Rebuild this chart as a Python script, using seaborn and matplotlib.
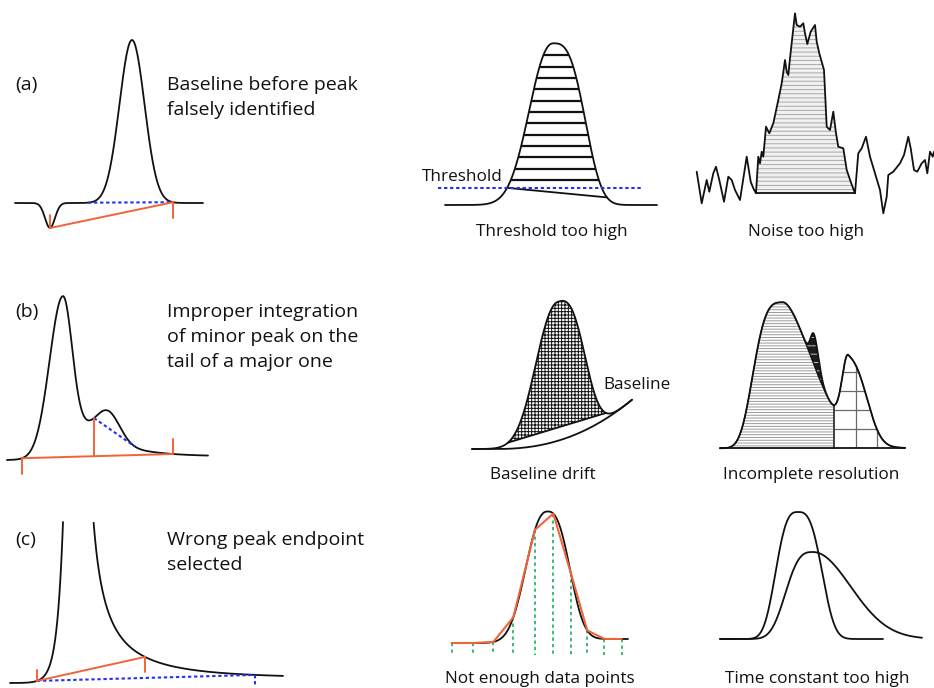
import numpy as np
import matplotlib
matplotlib.use("Agg")
import matplotlib.pyplot as plt
from matplotlib.patches import Polygon
import seaborn as sns

# ------------------------------------------------------------------
# Drawing data (pixel space of a 934 x 688 canvas, y grows downward)
# Peak shapes: centre, height above baseline, left/right width, left/right exponent
# ------------------------------------------------------------------

# (a) baseline before peak falsely identified
a_baseline = 203.0
a_span = [15, 203]
a_centres = [50, 132]
a_heights = [-25, 163]
a_widths = [7.0, 17.7]
a_integration = [50, 173]          # start / end chosen by the integrator
a_true_start = 88                  # start of the correct (dotted) baseline

# (b) minor peak on the tail of a major one
b_baseline = [460, 457]
b_span = [7, 208]
b_major = [63, 163, 19, 12.7]      # centre, height, left width, right width
b_tail = [55, 40, 15]              # amplitude, decay length, onset width
b_minor = [108, 30, 17]            # centre, height, width
b_integration = [22, 94, 173]      # start, drop line, end
b_skim_end = 135

# (c) wrong peak endpoint
c_baseline = 683
c_span = [10, 283]
c_visible = 161                    # height at which the tall peak leaves the frame
c_rise = [63, 6]                   # reference position, e-fold length of the front
c_tail = [80, 2375, 118, 5]        # pole, amplitude, decay length, residual offset
c_integration = [37, 145]
c_true_end = 255

# threshold too high
thr_baseline = 205
thr_span = [445, 657]
thr_peak = [553.3, 161.7, 32, 37, 2.2, 3.0]
thr_level = 188.3
thr_level_span = [438, 642]
thr_foot = 607

# noise too high
noise_x = [696.7, 701.7, 706.7, 709.3, 713.3, 716.0, 719.3, 724.0, 728.3, 731.7, 735.0, 740.0,
           746.7, 750.7, 753.3, 756.0,
           758.3, 760.0, 761.7, 763.3, 766.0, 769.3, 773.3, 778.3, 781.7, 785.0, 786.7, 788.3,
           790.0, 795.0, 796.7, 800.0, 803.3, 805.0, 807.3, 810.7, 815.0, 816.7, 819.3, 824.0,
           826.7, 830.0, 833.3, 836.0, 838.3, 843.3, 846.7, 850.7, 855.0,
           858.3, 861.7, 866.0, 870.0, 875.0, 880.0, 883.3, 886.7, 888.3, 893.3, 900.0, 904.0,
           908.3, 910.7, 914.0, 917.3, 921.7, 925.0, 927.3, 930.0, 932.7, 934.0]
noise_y = [171.7, 203.3, 180.0, 191.7, 173.3, 166.7, 180.0, 201.7, 176.7, 180.0, 190.0, 200.0,
           156.7, 181.7, 188.3, 193.3,
           156.7, 163.3, 151.7, 156.7, 126.7, 133.3, 123.3, 100.0, 83.3, 60.0, 71.7, 75.0,
           58.3, 13.3, 25.0, 26.7, 23.3, 33.3, 44.0, 31.7, 25.0, 41.7, 53.3, 70.0,
           126.7, 130.0, 111.7, 133.3, 146.7, 148.3, 170.0, 181.7, 193.3,
           153.3, 148.3, 136.7, 156.7, 173.3, 190.0, 213.3, 196.7, 175.0, 171.7, 163.3, 155.0,
           136.7, 148.3, 170.0, 171.7, 163.3, 160.0, 173.3, 151.7, 156.7, 151.7]
noise_floor = 193.3
noise_peak_span = [756.0, 855.0]

# baseline drift
drift_floor = 449
drift_span = [472, 632]
drift_rise = [495, 6e-4, 2.3]      # onset, scale, power of the drifting baseline
drift_peak = [558.3, 139, 30, 31.5, 2.2, 2.8]
drift_chord = [508, 606]

# incomplete resolution
res_baseline = 448.3
res_span = [720, 905]
res_centres = [783.3, 814, 848.3]
res_heights = [146, 31, 74]
res_wl = [34, 4.7, 8.5]
res_wr = [43, 6.4, 24]
res_pl = [3.5, 2.0, 2.0]
res_pr = [1.7, 2.0, 2.5]

# not enough data points
dp_span = [452, 628]
dp_baseline = [643, 639]
dp_peak = [546.7, 131, 27, 28, 2.3, 2.7]
dp_samples = [451.7, 473.3, 493.3, 513.3, 535.0, 553.3, 570.7, 587.3, 604.3, 621.7]
dp_drop_to = 655

# time constant too high
tc_baseline = 639
tc_narrow = [798, 127, 26, 28, 3.0, 3.0]
tc_narrow_span = [720, 883]
tc_broad = [813, 87, 32, 53, 3.0, 2.0]
tc_broad_span = [720, 922]

# text
side_labels = ["(a)", "(b)", "(c)"]
side_label_y = [85, 312, 540]
descriptions = ["Baseline before peak\nfalsely identified",
                "Improper integration\nof minor peak on the\ntail of a major one",
                "Wrong peak endpoint\nselected"]
captions = ["Threshold too high", "Noise too high", "Baseline drift",
            "Incomplete resolution", "Not enough data points", "Time constant too high"]
caption_x = [552, 806, 543, 811, 540, 817]
caption_y = [232, 232, 475, 475, 679, 679]

# ------------------------------------------------------------------
INK = "#111111"
ORANGE = "#F0643A"
BLUE = "#2233EE"
GREEN = "#2DB46A"
BIG = 14
SMALL = 12.3

sns.set_theme(style="white")
plt.rcParams["font.family"] = ["Open Sans", "DejaVu Sans"]
plt.rcParams["hatch.linewidth"] = 0.7

fig = plt.figure(figsize=(9.34, 6.88), dpi=100)
ax = fig.add_axes([0, 0, 1, 1])
ax.set_xlim(0, 934)
ax.set_ylim(688, 0)
ax.axis("off")


def peak(x, c, h, wl, wr, pl=2.0, pr=2.0):
    d = np.asarray(x, float) - c
    w = np.where(d < 0, wl, wr)
    p = np.where(d < 0, pl, pr)
    return h * np.exp(-(np.abs(d) / w) ** p)


def trace(x, y, color=INK, lw=1.3, ls="-", z=3):
    sns.lineplot(x=np.asarray(x, float), y=np.asarray(y, float), ax=ax, color=color,
                 linewidth=lw, linestyle=ls, sort=False, estimator=None,
                 legend=False, zorder=z)


DOTS = (0, (1.6, 1.3))

# ---------------- (a) ----------------
def ya(x):
    h = sum(peak(x, c, hh, w, w) for c, hh, w in zip(a_centres, a_heights, a_widths))
    return a_baseline - h

xa = np.linspace(*a_span, 500)
trace(xa, ya(xa))
s, e = a_integration
trace([a_true_start, e], [ya(a_true_start), ya(e)], BLUE, 1.5, DOTS)
trace([s, e], [ya(s), ya(e)], ORANGE, 1.4)
trace([s, s], [ya(s) - 13, ya(s)], ORANGE, 1.4)
trace([e, e], [ya(e), ya(e) + 16], ORANGE, 1.4)

# ---------------- (b) ----------------
def yb(x):
    x = np.asarray(x, float)
    base = np.interp(x, b_span, b_baseline)
    c, h, wl, wr = b_major
    amp, dec, onset = b_tail
    d = np.clip(x - c, 0, None)
    tail = amp * np.exp(-d / dec) * (1 - np.exp(-(d / onset) ** 2))
    mc, mh, mw = b_minor
    return base - (peak(x, c, h, wl, wr) + tail + peak(x, mc, mh, mw, mw))

xb = np.linspace(*b_span, 600)
trace(xb, yb(xb))
s, m, e = b_integration
ym_line = np.interp(m, [s, e], [yb(s), yb(e)])
trace([m, b_skim_end], [yb(m), yb(b_skim_end)], BLUE, 1.5, DOTS)
trace([s, e], [yb(s), yb(e)], ORANGE, 1.4)
trace([s, s], [yb(s), yb(s) + 16], ORANGE, 1.4)
trace([m, m], [yb(m), ym_line], ORANGE, 1.4)
trace([e, e], [yb(e) - 15, yb(e)], ORANGE, 1.4)

# ---------------- (c) ----------------
def yc_front(x):
    ref, efold = c_rise
    h = c_visible * (np.exp((x - ref) / efold) - np.exp((c_span[0] - ref) / efold))
    return c_baseline - h

def yc_tail(x):
    pole, amp, dec, off = c_tail
    return c_baseline - (off + amp / (x - pole) * np.exp(-(x - pole) / dec))

xf = np.linspace(c_span[0], c_rise[0], 300)
trace(xf, yc_front(xf))
xt = np.linspace(c_tail[0] + 1, c_span[1], 2000)
ht = c_baseline - yc_tail(xt)
keep = ht <= c_visible
trace(xt[keep], yc_tail(xt[keep]))

s, e = c_integration
ys = yc_front(s)
trace([s, c_true_end], [ys, yc_tail(c_true_end)], BLUE, 1.5, DOTS)
trace([c_true_end, c_true_end], [yc_tail(c_true_end), yc_tail(c_true_end) + 10], BLUE, 1.5, DOTS)
trace([s, e], [ys, yc_tail(e)], ORANGE, 1.4)
trace([s, s], [ys - 11, ys], ORANGE, 1.4)
trace([e, e], [yc_tail(e), yc_tail(e) + 15], ORANGE, 1.4)

# ---------------- threshold too high ----------------
def yt(x):
    return thr_baseline - peak(x, *thr_peak)

xt2 = np.linspace(*thr_span, 800)
yt2 = yt(xt2)
above = yt2 <= thr_level
xs_in = xt2[above]
poly = np.column_stack([np.r_[xs_in, xs_in[::-1]],
                        np.r_[yt2[above], np.full(above.sum(), thr_level)]])
clip = Polygon(poly, closed=True, fill=False, lw=0)
ax.add_patch(clip)
rows = thr_level - 8.3 - 11.35 * np.arange(12)
hl = ax.hlines(rows, xs_in[0], xs_in[-1], color=INK, lw=1.6, zorder=2)
hl.set_clip_path(clip)
trace(xt2, yt2)
x_cross = xs_in[0]
trace([x_cross, thr_foot], [yt(x_cross), yt(thr_foot)], INK, 1.3)
trace(thr_level_span, [thr_level, thr_level], BLUE, 1.5, DOTS)
ax.text(422, 177, "Threshold", fontsize=SMALL, ha="left", va="center", color=INK)

# ---------------- noise too high ----------------
nx = np.asarray(noise_x)
ny = np.asarray(noise_y)
inpk = (nx >= noise_peak_span[0]) & (nx <= noise_peak_span[1])
ax.fill(nx[inpk], ny[inpk], facecolor="#f1f1f1", edgecolor="#a9a9a9", hatch="----",
        lw=0, zorder=1)
trace(nx, ny, INK, 1.3)
trace(noise_peak_span, [noise_floor, noise_floor], INK, 1.3)

# ---------------- baseline drift ----------------
def yd_base(x):
    on, k, pw = drift_rise
    return drift_floor - k * np.clip(np.asarray(x, float) - on, 0, None) ** pw

def yd(x):
    return yd_base(x) - peak(x, *drift_peak)

xd = np.linspace(*drift_span, 700)
l, r = drift_chord
xin = xd[(xd >= l) & (xd <= r)]
chord_y = np.interp(xin, [l, r], [yd(l), yd(r)])
ax.fill_between(xin, yd(xin), chord_y, facecolor="white", edgecolor=INK,
                hatch="+++++", lw=0, zorder=1)
trace(xd, yd_base(xd))
trace(xd, yd(xd))
trace([l, r], [yd(l), yd(r)], INK, 1.3)
ax.text(603, 385, "Baseline", fontsize=SMALL, ha="left", va="center", color=INK)

# ---------------- incomplete resolution ----------------
xr = np.linspace(*res_span, 900)
comps = [peak(xr, c, h, wl, wr, pl, pr) for c, h, wl, wr, pl, pr in
         zip(res_centres, res_heights, res_wl, res_wr, res_pl, res_pr)]
total = comps[0] + comps[1] + comps[2]
under = comps[0] + comps[2]
yr_total = res_baseline - total
yr_under = res_baseline - under
win = (xr > res_centres[1]) & (xr < res_centres[2])
x_valley = xr[win][np.argmin(total[win])]
left = xr <= x_valley
ax.fill_between(xr[left], res_baseline, yr_under[left], facecolor="white",
                edgecolor="#9a9a9a", hatch="------", lw=0, zorder=1)
ax.fill_between(xr[left], yr_under[left], yr_total[left], facecolor="#1c1c1c",
                edgecolor="#bdbdbd", hatch="--", lw=0, zorder=1)
right = xr >= x_valley
rpoly = np.column_stack([np.r_[xr[right], xr[right][::-1]],
                         np.r_[yr_total[right], np.full(right.sum(), res_baseline)]])
rclip = Polygon(rpoly, closed=True, fill=False, lw=0)
ax.add_patch(rclip)
gl_h = ax.hlines(res_baseline - 19 * np.arange(1, 6), x_valley, res_span[1],
                 color="#6a6a6a", lw=0.9, zorder=1)
gl_h.set_clip_path(rclip)
gl_v = ax.vlines(x_valley + 21.5 * np.arange(1, 4), 300, res_baseline,
                 color="#6a6a6a", lw=0.9, zorder=1)
gl_v.set_clip_path(rclip)
trace([x_valley, x_valley], [np.interp(x_valley, xr, yr_total), res_baseline], "#333333", 1.3)
trace(xr, yr_under, INK, 0.9)
trace(xr, yr_total)
trace(res_span, [res_baseline, res_baseline], INK, 1.3)

# ---------------- not enough data points ----------------
def ydp(x):
    base = np.interp(x, [dp_peak[0] - 5, dp_peak[0] + 40], dp_baseline)
    return base - peak(x, *dp_peak)

xdp = np.linspace(*dp_span, 500)
trace(xdp, ydp(xdp))
samp = np.asarray(dp_samples)
for sx in samp:
    trace([sx, sx], [ydp(sx), dp_drop_to], GREEN, 1.3, (0, (1.8, 1.8)), z=2)
trace(samp, ydp(samp), ORANGE, 1.5, z=4)

# ---------------- time constant too high ----------------
xn = np.linspace(*tc_narrow_span, 500)
trace(xn, tc_baseline - peak(xn, *tc_narrow))
xw = np.linspace(*tc_broad_span, 500)
trace(xw, tc_baseline - peak(xw, *tc_broad))

# ---------------- text ----------------
for lab, y in zip(side_labels, side_label_y):
    ax.text(15, y, lab, fontsize=BIG, ha="left", va="center", color=INK)
for txt, y in zip(descriptions, side_label_y):
    for i, line in enumerate(txt.split("\n")):
        ax.text(167, y + 25 * i, line, fontsize=BIG, ha="left", va="center", color=INK)
for txt, x, y in zip(captions, caption_x, caption_y):
    ax.text(x, y, txt, fontsize=SMALL, ha="center", va="center", color=INK)

fig.savefig("out.png", dpi=100)
